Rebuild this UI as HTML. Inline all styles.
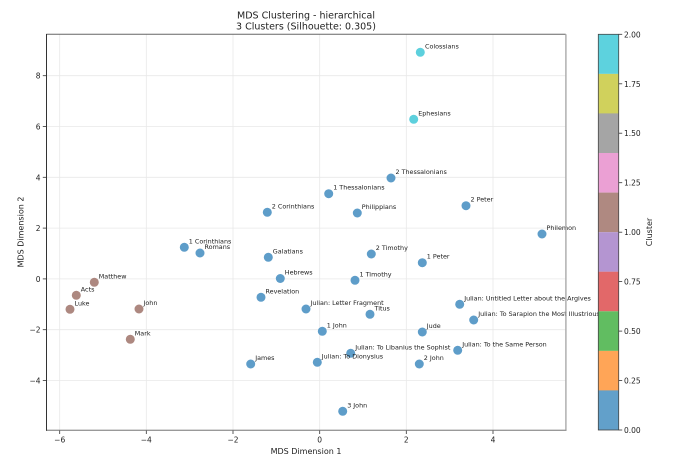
<!DOCTYPE html>
<html><head><meta charset="utf-8"><style>
html,body{margin:0;padding:0;background:#fff;}
svg{display:block;font-family:"DejaVu Sans","Liberation Sans",sans-serif;}
.tk{font-size:7.5px;fill:#222;}
.lb{font-size:6.4px;fill:#222;}
</style></head><body>
<svg width="682" height="472" viewBox="0 0 682 472" xmlns="http://www.w3.org/2000/svg">
<rect width="682" height="472" fill="#fff"/>
<!-- title -->
<text x="306" y="18.5" text-anchor="middle" font-size="9.5" fill="#222">MDS Clustering - hierarchical</text>
<text x="306" y="29.5" text-anchor="middle" font-size="9.5" fill="#222">3 Clusters (Silhouette: 0.305)</text>
<!-- grid -->
<g stroke="#e8e8e8" stroke-width="0.8">
<line x1="59.7" y1="34.3" x2="59.7" y2="430"/>
<line x1="146.3" y1="34.3" x2="146.3" y2="430"/>
<line x1="233" y1="34.3" x2="233" y2="430"/>
<line x1="319.7" y1="34.3" x2="319.7" y2="430"/>
<line x1="406.3" y1="34.3" x2="406.3" y2="430"/>
<line x1="493" y1="34.3" x2="493" y2="430"/>
<line x1="46.3" y1="75.7" x2="565.7" y2="75.7"/>
<line x1="46.3" y1="126.5" x2="565.7" y2="126.5"/>
<line x1="46.3" y1="177.3" x2="565.7" y2="177.3"/>
<line x1="46.3" y1="228.1" x2="565.7" y2="228.1"/>
<line x1="46.3" y1="278.9" x2="565.7" y2="278.9"/>
<line x1="46.3" y1="329.7" x2="565.7" y2="329.7"/>
<line x1="46.3" y1="380.5" x2="565.7" y2="380.5"/>
</g>
<!-- points -->
<g>
<g fill="#5e9dc9">
<circle cx="391" cy="178" r="4.5"/>
<circle cx="328.7" cy="193.7" r="4.5"/>
<circle cx="267.3" cy="212.3" r="4.5"/>
<circle cx="357.3" cy="213" r="4.5"/>
<circle cx="466" cy="205.7" r="4.5"/>
<circle cx="542" cy="234" r="4.5"/>
<circle cx="184.3" cy="247.3" r="4.5"/>
<circle cx="200" cy="253" r="4.5"/>
<circle cx="268.3" cy="257.3" r="4.5"/>
<circle cx="371.3" cy="254" r="4.5"/>
<circle cx="422.3" cy="262.7" r="4.5"/>
<circle cx="280.3" cy="278.5" r="4.5"/>
<circle cx="355" cy="280.3" r="4.5"/>
<circle cx="261" cy="297.3" r="4.5"/>
<circle cx="306" cy="309" r="4.5"/>
<circle cx="370" cy="314.3" r="4.5"/>
<circle cx="459.7" cy="304.3" r="4.5"/>
<circle cx="473.7" cy="320" r="4.5"/>
<circle cx="322.3" cy="331.3" r="4.5"/>
<circle cx="422.3" cy="332" r="4.5"/>
<circle cx="350.7" cy="353.3" r="4.5"/>
<circle cx="457.7" cy="350.3" r="4.5"/>
<circle cx="250.7" cy="364" r="4.5"/>
<circle cx="317.3" cy="362.3" r="4.5"/>
<circle cx="419.3" cy="364" r="4.5"/>
<circle cx="342.7" cy="411.3" r="4.5"/>
</g>
<g fill="#ad8880">
<circle cx="94.3" cy="282.3" r="4.5"/>
<circle cx="76.3" cy="295.3" r="4.5"/>
<circle cx="70" cy="309.3" r="4.5"/>
<circle cx="139" cy="309" r="4.5"/>
<circle cx="130.3" cy="339.3" r="4.5"/>
</g>
<g fill="#5dd0dd">
<circle cx="420.3" cy="52.3" r="4.5"/>
<circle cx="413.7" cy="119.3" r="4.5"/>
</g>
</g>
<!-- labels -->
<g class="lb">
<text x="425" y="48.3">Colossians</text>
<text x="418.2" y="115.3">Ephesians</text>
<text x="395.5" y="174">2 Thessalonians</text>
<text x="333.2" y="189.7">1 Thessalonians</text>
<text x="271.8" y="208.3">2 Corinthians</text>
<text x="361.8" y="209">Philippians</text>
<text x="470.5" y="201.7">2 Peter</text>
<text x="546.5" y="230">Philemon</text>
<text x="188.8" y="243.3">1 Corinthians</text>
<text x="204.5" y="249">Romans</text>
<text x="272.8" y="253.3">Galatians</text>
<text x="375.8" y="250">2 Timothy</text>
<text x="426.8" y="258.7">1 Peter</text>
<text x="284.8" y="274.5">Hebrews</text>
<text x="359.5" y="276.3">1 Timothy</text>
<text x="98.8" y="278.3">Matthew</text>
<text x="80.8" y="291.3">Acts</text>
<text x="74.5" y="305.3">Luke</text>
<text x="143.5" y="305">John</text>
<text x="134.8" y="335.3">Mark</text>
<text x="265.5" y="293.3">Revelation</text>
<text x="310.5" y="305">Julian: Letter Fragment</text>
<text x="374.5" y="310.3">Titus</text>
<text x="464.2" y="300.3">Julian: Untitled Letter about the Argives</text>
<text x="478.2" y="316">Julian: To Sarapion the Most Illustrious</text>
<text x="326.8" y="327.3">1 John</text>
<text x="426.8" y="328">Jude</text>
<text x="355.2" y="349.3">Julian: To Libanius the Sophist</text>
<text x="462.2" y="346.3">Julian: To the Same Person</text>
<text x="255.2" y="360">James</text>
<text x="321.8" y="358.3">Julian: To Dionysius</text>
<text x="423.8" y="360">2 John</text>
<text x="347.2" y="407.3">3 John</text>
</g>
<!-- spines -->
<line x1="46.3" y1="34.3" x2="565.7" y2="34.3" stroke="#666" stroke-width="1"/>
<line x1="565.9" y1="34.3" x2="565.9" y2="430.3" stroke="#aaa" stroke-width="1.4"/>
<line x1="46.3" y1="430.3" x2="566.5" y2="430.3" stroke="#999" stroke-width="1.4"/>
<line x1="46.5" y1="34" x2="46.5" y2="430.8" stroke="#333" stroke-width="1"/>
<!-- x ticks -->
<g stroke="#333" stroke-width="0.8">
<line x1="59.7" y1="430.5" x2="59.7" y2="434"/>
<line x1="146.3" y1="430.5" x2="146.3" y2="434"/>
<line x1="233" y1="430.5" x2="233" y2="434"/>
<line x1="319.7" y1="430.5" x2="319.7" y2="434"/>
<line x1="406.3" y1="430.5" x2="406.3" y2="434"/>
<line x1="493" y1="430.5" x2="493" y2="434"/>
<line x1="42.8" y1="75.7" x2="46.3" y2="75.7"/>
<line x1="42.8" y1="126.5" x2="46.3" y2="126.5"/>
<line x1="42.8" y1="177.3" x2="46.3" y2="177.3"/>
<line x1="42.8" y1="228.1" x2="46.3" y2="228.1"/>
<line x1="42.8" y1="278.9" x2="46.3" y2="278.9"/>
<line x1="42.8" y1="329.7" x2="46.3" y2="329.7"/>
<line x1="42.8" y1="380.5" x2="46.3" y2="380.5"/>
</g>
<g class="tk" text-anchor="middle">
<text x="59.7" y="442.5">−6</text>
<text x="146.3" y="442.5">−4</text>
<text x="233" y="442.5">−2</text>
<text x="319.7" y="442.5">0</text>
<text x="406.3" y="442.5">2</text>
<text x="493" y="442.5">4</text>
</g>
<g class="tk" text-anchor="end">
<text x="40.5" y="78.7">8</text>
<text x="40.5" y="129.5">6</text>
<text x="40.5" y="180.3">4</text>
<text x="40.5" y="231.1">2</text>
<text x="40.5" y="281.9">0</text>
<text x="40.5" y="332.7">−2</text>
<text x="40.5" y="383.5">−4</text>
</g>
<text x="306" y="454" text-anchor="middle" font-size="8" fill="#222">MDS Dimension 1</text>
<text transform="translate(23.5,232) rotate(-90)" text-anchor="middle" font-size="8" fill="#222">MDS Dimension 2</text>
<!-- colorbar -->
<g>
<rect x="598.3" y="34.3" width="20.4" height="39.6" fill="#5dd2de"/>
<rect x="598.3" y="73.9" width="20.4" height="39.6" fill="#d0d15c"/>
<rect x="598.3" y="113.4" width="20.4" height="39.6" fill="#a5a5a5"/>
<rect x="598.3" y="153" width="20.4" height="39.6" fill="#eba0d4"/>
<rect x="598.3" y="192.6" width="20.4" height="39.6" fill="#af8981"/>
<rect x="598.3" y="232.2" width="20.4" height="39.6" fill="#b495d1"/>
<rect x="598.3" y="271.7" width="20.4" height="39.6" fill="#e26869"/>
<rect x="598.3" y="311.3" width="20.4" height="39.6" fill="#61bd61"/>
<rect x="598.3" y="350.9" width="20.4" height="39.6" fill="#ffa557"/>
<rect x="598.3" y="390.4" width="20.4" height="39.6" fill="#62a0ca"/>
<rect x="598.3" y="34.3" width="20.4" height="395.7" fill="none" stroke="#444" stroke-width="0.8"/>
</g>
<g stroke="#333" stroke-width="0.8">
<line x1="618.7" y1="34.3" x2="622.2" y2="34.3"/>
<line x1="618.7" y1="83.8" x2="622.2" y2="83.8"/>
<line x1="618.7" y1="133.2" x2="622.2" y2="133.2"/>
<line x1="618.7" y1="182.7" x2="622.2" y2="182.7"/>
<line x1="618.7" y1="232.2" x2="622.2" y2="232.2"/>
<line x1="618.7" y1="281.6" x2="622.2" y2="281.6"/>
<line x1="618.7" y1="331.1" x2="622.2" y2="331.1"/>
<line x1="618.7" y1="380.5" x2="622.2" y2="380.5"/>
<line x1="618.7" y1="430" x2="622.2" y2="430"/>
</g>
<g class="tk">
<text x="624" y="37.3">2.00</text>
<text x="624" y="86.8">1.75</text>
<text x="624" y="136.2">1.50</text>
<text x="624" y="185.7">1.25</text>
<text x="624" y="235.2">1.00</text>
<text x="624" y="284.6">0.75</text>
<text x="624" y="334.1">0.50</text>
<text x="624" y="383.5">0.25</text>
<text x="624" y="433">0.00</text>
</g>
<text transform="translate(652,232) rotate(-90)" text-anchor="middle" font-size="8" fill="#222">Cluster</text>
</svg>
</body></html>
